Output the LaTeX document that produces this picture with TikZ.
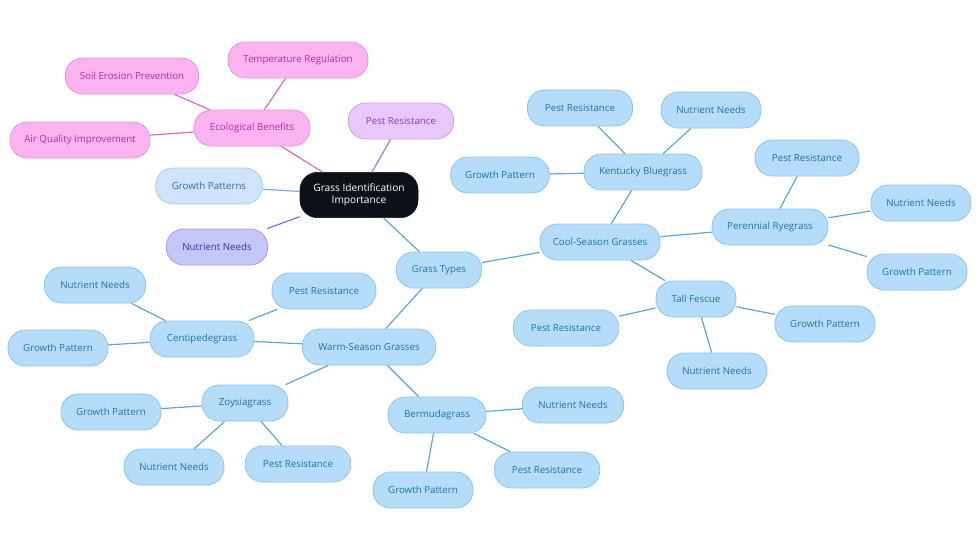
\documentclass[tikz,border=0pt]{standalone}
\usepackage{fontspec}
\setmainfont{Open Sans}
\definecolor{bfill}{HTML}{B5DDFA}
\definecolor{bdraw}{HTML}{8CC4EE}
\definecolor{btext}{HTML}{1C74B4}
\definecolor{bedge}{HTML}{5FA6D6}
\definecolor{pfill}{HTML}{FBB4F0}
\definecolor{pdraw}{HTML}{EE90DF}
\definecolor{ptext}{HTML}{BE2BA0}
\definecolor{pedge}{HTML}{D46CBF}
\definecolor{lfill}{HTML}{E8C8FA}
\definecolor{ldraw}{HTML}{CF9EEE}
\definecolor{ltext}{HTML}{8A3EC2}
\definecolor{ledge}{HTML}{B07AD8}
\definecolor{gfill}{HTML}{CFE3FA}
\definecolor{gdraw}{HTML}{A8CBF0}
\definecolor{gtext}{HTML}{2F6DBD}
\definecolor{gedge}{HTML}{7FAAD8}
\definecolor{ifill}{HTML}{C7C6FA}
\definecolor{idraw}{HTML}{A09DEB}
\definecolor{itext}{HTML}{3A34AE}
\definecolor{iedge}{HTML}{7A74D6}
\definecolor{cfill}{HTML}{0C1118}
\tikzset{
  pill/.style={rounded corners=13pt, minimum height=27pt, inner sep=0pt, font=\fontsize{7.3}{9}\selectfont, line width=0.6pt},
  bnode/.style={pill, fill=bfill, draw=bdraw, text=btext},
  pnode/.style={pill, fill=pfill, draw=pdraw, text=ptext},
  lnode/.style={pill, fill=lfill, draw=ldraw, text=ltext},
  gnode/.style={pill, fill=gfill, draw=gdraw, text=gtext},
  inode/.style={pill, fill=ifill, draw=idraw, text=itext},
  W/.style={minimum width=#1},
  be/.style={draw=bedge, line width=0.9pt},
  pe/.style={draw=pedge, line width=0.9pt},
}
\begin{document}
\begin{tikzpicture}[x=0.75pt, y=-0.75pt]
\useasboundingbox (0,0) rectangle (980,553);
% center
\node[rounded corners=13pt, fill=cfill, draw=cfill, text=white, minimum width=88.5pt, minimum height=34pt, inner sep=0pt, align=center, font=\fontsize{7.6}{9}\selectfont] (root) at (359,195) {Grass Identification\\Importance};
% pink
\node[pnode, W=87pt] (eco) at (252,128) {Ecological Benefits};
\node[pnode, W=105pt] (temp) at (298,60) {Temperature Regulation};
\node[pnode, W=100pt] (soil) at (132,76) {Soil Erosion Prevention};
\node[pnode, W=105pt] (air) at (80,140) {Air Quality Improvement};
% others
\node[lnode, W=79pt] (pest0) at (401,121) {Pest Resistance};
\node[gnode, W=80pt] (gp0) at (209,186) {Growth Patterns};
\node[inode, W=76pt] (nn0) at (217,247) {Nutrient Needs};
% blue tree
\node[bnode, W=64pt] (gt) at (439,270) {Grass Types};
\node[bnode, W=90pt] (cool) at (600,242) {Cool-Season Grasses};
\node[bnode, W=88.5pt] (kb) at (643,172) {Kentucky Bluegrass};
\node[bnode, W=79pt] (kbp) at (580,108) {Pest Resistance};
\node[bnode, W=75pt] (kbn) at (711,110) {Nutrient Needs};
\node[bnode, W=74pt] (kbg) at (500,175) {Growth Pattern};
\node[bnode, W=87pt] (pr) at (770,227) {Perennial Ryegrass};
\node[bnode, W=78pt] (prp) at (807,158) {Pest Resistance};
\node[bnode, W=75pt] (prn) at (921,203) {Nutrient Needs};
\node[bnode, W=75pt] (prg) at (917,272) {Growth Pattern};
\node[bnode, W=60pt] (tf) at (696,299) {Tall Fescue};
\node[bnode, W=79pt] (tfp) at (566,328) {Pest Resistance};
\node[bnode, W=75pt] (tfg) at (825,324) {Growth Pattern};
\node[bnode, W=75pt] (tfn) at (717,371) {Nutrient Needs};
\node[bnode, W=100pt] (warm) at (369,347) {Warm-Season Grasses};
\node[bnode, W=78pt] (cen) at (202,339) {Centipedegrass};
\node[bnode, W=76pt] (cenn) at (95,285) {Nutrient Needs};
\node[bnode, W=78pt] (cenp) at (324,291) {Pest Resistance};
\node[bnode, W=75pt] (ceng) at (58,348) {Growth Pattern};
\node[bnode, W=64.5pt] (zoy) at (245,403) {Zoysiagrass};
\node[bnode, W=75pt] (zoyg) at (111,412) {Growth Pattern};
\node[bnode, W=75pt] (zoyn) at (174,467) {Nutrient Needs};
\node[bnode, W=79pt] (zoyp) at (298,464) {Pest Resistance};
\node[bnode, W=73.5pt] (ber) at (437,415) {Bermudagrass};
\node[bnode, W=76pt] (bern) at (573,405) {Nutrient Needs};
\node[bnode, W=79pt] (berp) at (547,470) {Pest Resistance};
\node[bnode, W=75pt] (berg) at (423,490) {Growth Pattern};
% edges
\draw[pe] (root) -- (eco);
\draw[pe] (eco) -- (temp);
\draw[pe] (eco) -- (soil);
\draw[pe] (eco) -- (air);
\draw[draw=ledge, line width=0.9pt] (root) -- (pest0);
\draw[draw=gedge, line width=0.9pt] (root) -- (gp0);
\draw[draw=iedge, line width=0.9pt] (root) -- (nn0);
\draw[be] (root) -- (gt);
\draw[be] (gt) -- (cool);
\draw[be] (cool) -- (kb);
\draw[be] (kb) -- (kbp);
\draw[be] (kb) -- (kbn);
\draw[be] (kb) -- (kbg);
\draw[be] (cool) -- (pr);
\draw[be] (pr) -- (prp);
\draw[be] (pr) -- (prn);
\draw[be] (pr) -- (prg);
\draw[be] (cool) -- (tf);
\draw[be] (tf) -- (tfp);
\draw[be] (tf) -- (tfg);
\draw[be] (tf) -- (tfn);
\draw[be] (gt) -- (warm);
\draw[be] (warm) -- (cen);
\draw[be] (cen) -- (cenn);
\draw[be] (cen) -- (cenp);
\draw[be] (cen) -- (ceng);
\draw[be] (warm) -- (zoy);
\draw[be] (zoy) -- (zoyg);
\draw[be] (zoy) -- (zoyn);
\draw[be] (zoy) -- (zoyp);
\draw[be] (warm) -- (ber);
\draw[be] (ber) -- (bern);
\draw[be] (ber) -- (berp);
\draw[be] (ber) -- (berg);
\end{tikzpicture}
\end{document}
